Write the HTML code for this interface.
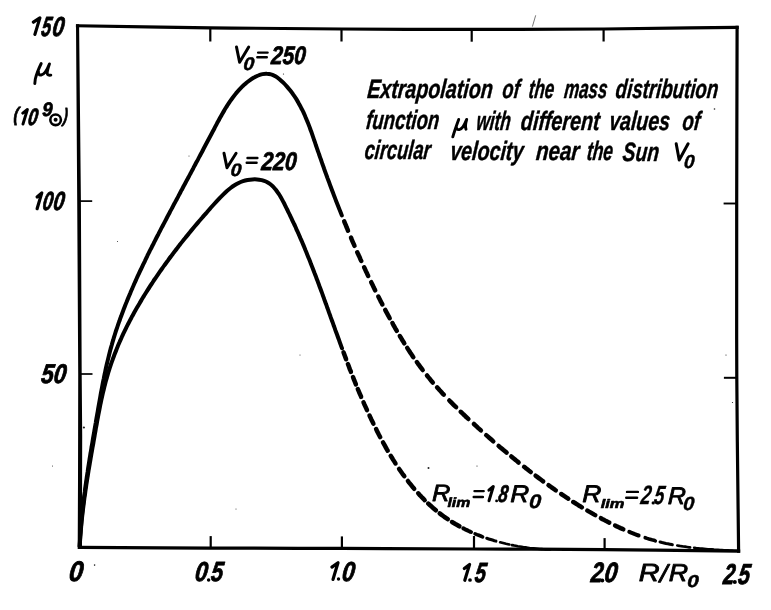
<!DOCTYPE html>
<html><head><meta charset="utf-8"><title>Mass distribution</title>
<style>
html,body{margin:0;padding:0;background:#fff;}
body{width:771px;height:610px;overflow:hidden;font-family:"Liberation Sans",sans-serif;}
svg{display:block;}
text{font-family:"Liberation Sans",sans-serif;font-style:italic;font-weight:bold;fill:#000;}
.ln{fill:none;stroke:#000;}
</style></head><body>
<svg width="771" height="610" viewBox="0 0 771 610">
<defs><filter id="g" x="0" y="0" width="771" height="610" filterUnits="userSpaceOnUse" color-interpolation-filters="sRGB"><feColorMatrix type="saturate" values="0"/></filter></defs>
<rect width="771" height="610" fill="#fff"/>
<g class="ln" stroke-width="3.2" stroke-linecap="square" stroke-linejoin="miter">
<path d="M77.5,25.8 C99.6,26.1 165.9,27.3 210.0,27.8 C254.1,28.3 298.3,28.7 342.0,29.0 C385.7,29.3 428.3,29.4 472.0,29.4 C515.7,29.4 567.7,29.3 604.0,29.0 C640.3,28.7 667.8,28.1 690.0,27.8 C712.2,27.5 729.2,27.5 737.1,27.4"/>
<path d="M737.1,27.4 C737.0,56.8 736.8,145.6 736.7,204.0 C736.7,262.4 736.5,320.1 736.8,378.0 C737.1,435.9 738.3,522.3 738.6,551.2"/>
<path d="M738.6,551.2 C716.2,550.9 648.1,550.0 604.0,549.6 C559.9,549.2 517.7,549.2 474.0,549.0 C430.3,548.8 386.0,548.5 342.0,548.4 C298.0,548.2 253.7,548.3 210.0,548.1 C166.3,547.9 101.3,547.4 79.6,547.3"/>
</g>
<path fill="#000" d="M76.0,24.3 L77.2,200.0 L78.2,374.0 L78.1,436.0 L78.0,480.0 L77.7,549.0 L81.9,549.0 L82.1,480.0 L82.2,436.0 L81.7,374.0 L80.9,200.0 L79.1,24.3 Z"/>
<g class="ln" stroke-linecap="butt">
<line x1="210.3" y1="28.0" x2="210.3" y2="41.5" stroke-width="2.2"/>
<line x1="341.5" y1="29.0" x2="341.5" y2="41.5" stroke-width="2.2"/>
<line x1="471.7" y1="29.4" x2="471.7" y2="41.7" stroke-width="2.2"/>
<line x1="603.6" y1="29.0" x2="603.6" y2="41.5" stroke-width="2.2"/>
<line x1="210.7" y1="536.1" x2="210.7" y2="548.0" stroke-width="2.2"/>
<line x1="341.9" y1="536.4" x2="341.9" y2="548.4" stroke-width="2.2"/>
<line x1="474.0" y1="536.0" x2="474.0" y2="549.0" stroke-width="2.2"/>
<line x1="604.6" y1="538.1" x2="604.6" y2="549.6" stroke-width="2.2"/>
<line x1="79.0" y1="201.1" x2="92.2" y2="201.1" stroke-width="1.7"/>
<line x1="80.0" y1="374.0" x2="92.5" y2="374.0" stroke-width="1.7"/>
<line x1="723.6" y1="203.5" x2="736.7" y2="203.5" stroke-width="1.9"/>
<line x1="723.9" y1="377.8" x2="736.8" y2="377.8" stroke-width="2.0"/>
</g>
<g class="ln" stroke-width="4.0" stroke-linecap="round" stroke-linejoin="round">
<path d="M79.7,546.5 C79.7,545.7 79.9,543.2 79.9,541.5 C80.0,539.9 80.1,538.2 80.2,536.5 C80.4,534.9 80.5,533.2 80.6,531.6 C80.7,529.9 80.8,528.2 81.0,526.6 C81.1,524.9 81.3,523.3 81.4,521.6 C81.6,520.0 81.7,518.3 81.9,516.6 C82.0,515.0 82.2,513.3 82.4,511.7 C82.6,510.0 82.7,508.4 82.9,506.7 C83.1,505.0 83.3,503.4 83.5,501.7 C83.7,500.1 83.9,498.4 84.1,496.8 C84.3,495.1 84.5,493.5 84.8,491.8 C85.0,490.1 85.2,488.5 85.4,486.8 C85.6,485.2 85.9,483.5 86.1,481.9 C86.4,480.2 86.6,478.6 86.8,476.9 C87.1,475.3 87.3,473.6 87.6,472.0 C87.8,470.3 88.1,468.7 88.3,467.0 C88.6,465.4 88.9,463.7 89.1,462.1 C89.4,460.4 89.6,458.8 89.9,457.1 C90.2,455.5 90.4,453.8 90.7,452.2 C91.0,450.5 91.3,448.9 91.5,447.2 C91.8,445.6 92.1,443.9 92.4,442.3 C92.7,440.6 92.9,439.0 93.2,437.3 C93.5,435.7 93.8,434.1 94.1,432.4 C94.3,430.8 94.6,429.1 94.9,427.5 C95.2,425.8 95.5,424.2 95.8,422.5 C96.0,420.9 96.3,419.3 96.6,417.6 C96.9,416.0 97.2,414.3 97.5,412.7 C97.8,411.1 98.0,409.4 98.3,407.8 C98.6,406.1 98.9,404.5 99.2,402.9 C99.5,401.2 99.8,399.6 100.1,397.9 C100.4,396.3 100.6,394.7 100.9,393.0 C101.2,391.4 101.6,389.8 101.9,388.1 C102.2,386.5 102.5,384.9 102.8,383.2 C103.1,381.6 103.4,380.0 103.8,378.4 C104.1,376.7 104.4,375.1 104.8,373.5 C105.1,371.9 105.5,370.3 105.8,368.6 C106.2,367.0 106.5,365.4 106.9,363.8 C107.3,362.2 107.7,360.6 108.1,358.9 C108.5,357.3 108.9,355.7 109.3,354.1 C109.7,352.5 110.1,350.9 110.5,349.3 C111.0,347.7 111.4,346.1 111.9,344.5 C112.3,342.9 112.8,341.3 113.3,339.7 C113.7,338.1 114.2,336.6 114.7,335.0 C115.2,333.4 115.7,331.8 116.2,330.2 C116.8,328.6 117.3,327.1 117.8,325.5 C118.4,323.9 118.9,322.3 119.5,320.8 C120.0,319.2 120.6,317.6 121.2,316.1 C121.7,314.5 122.3,312.9 122.9,311.4 C123.5,309.8 124.1,308.3 124.7,306.7 C125.3,305.1 125.9,303.6 126.6,302.0 C127.2,300.5 127.8,298.9 128.5,297.4 C129.1,295.8 129.7,294.3 130.4,292.8 C131.0,291.2 131.7,289.7 132.4,288.1 C133.0,286.6 133.7,285.1 134.4,283.5 C135.1,282.0 135.8,280.5 136.4,279.0 C137.1,277.4 137.8,275.9 138.5,274.4 C139.2,272.9 139.9,271.3 140.7,269.8 C141.4,268.3 142.1,266.8 142.8,265.3 C143.5,263.8 144.3,262.3 145.0,260.8 C145.7,259.2 146.4,257.7 147.2,256.2 C147.9,254.7 148.7,253.2 149.4,251.7 C150.2,250.2 150.9,248.7 151.7,247.2 C152.4,245.7 153.2,244.3 153.9,242.8 C154.7,241.3 155.4,239.8 156.2,238.3 C157.0,236.8 157.7,235.3 158.5,233.9 C159.3,232.4 160.0,230.9 160.8,229.4 C161.6,227.9 162.3,226.5 163.1,225.0 C163.9,223.5 164.6,222.1 165.4,220.6 C166.2,219.1 167.0,217.7 167.7,216.2 C168.5,214.7 169.3,213.3 170.0,211.8 C170.8,210.4 171.6,208.9 172.4,207.5 C173.1,206.0 173.9,204.5 174.7,203.1 C175.5,201.6 176.2,200.2 177.0,198.7 C177.8,197.3 178.5,195.9 179.3,194.4 C180.1,193.0 180.8,191.5 181.6,190.1 C182.4,188.6 183.2,187.2 183.9,185.7 C184.7,184.3 185.5,182.9 186.2,181.4 C187.0,180.0 187.8,178.5 188.6,177.1 C189.3,175.6 190.1,174.2 190.9,172.7 C191.6,171.3 192.4,169.8 193.2,168.4 C194.0,166.9 194.7,165.5 195.5,164.0 C196.3,162.5 197.1,161.1 197.9,159.6 C198.6,158.1 199.4,156.7 200.2,155.2 C201.0,153.7 201.8,152.3 202.6,150.8 C203.3,149.3 204.1,147.8 204.9,146.3 C205.7,144.8 206.5,143.3 207.3,141.8 C208.1,140.3 208.9,138.8 209.7,137.3 C210.5,135.8 211.3,134.3 212.1,132.8 C212.9,131.3 213.7,129.7 214.5,128.2 C215.3,126.7 216.1,125.1 216.9,123.6 C217.7,122.1 218.6,120.6 219.4,119.0 C220.2,117.5 221.1,116.0 221.9,114.5 C222.8,113.0 223.7,111.5 224.5,110.0 C225.4,108.5 226.3,107.1 227.2,105.6 C228.2,104.2 229.1,102.8 230.0,101.4 C231.0,100.0 232.0,98.6 233.0,97.3 C234.0,96.0 235.0,94.7 236.0,93.4 C237.1,92.1 238.2,90.9 239.3,89.7 C240.4,88.5 241.5,87.3 242.6,86.2 C243.8,85.1 245.0,84.1 246.2,83.0 C247.4,82.0 248.7,81.1 250.0,80.2 C251.3,79.3 252.6,78.4 254.0,77.6 C255.3,76.8 256.7,76.1 258.2,75.5 C259.6,74.9 261.0,74.4 262.5,74.1 C263.9,73.8 265.4,73.6 266.8,73.7 C268.3,73.7 269.7,73.9 271.1,74.4 C272.6,74.8 274.0,75.5 275.4,76.3 C276.8,77.1 278.1,78.1 279.5,79.2 C280.8,80.3 282.1,81.5 283.3,82.7 C284.6,84.0 285.8,85.3 287.0,86.6 C288.1,87.9 289.2,89.2 290.3,90.6 C291.4,92.0 292.4,93.3 293.3,94.7 C294.3,96.1 295.3,97.5 296.2,98.9 C297.1,100.4 297.9,101.8 298.7,103.3 C299.6,104.7 300.4,106.2 301.1,107.7 C301.9,109.2 302.6,110.7 303.4,112.2 C304.1,113.7 304.7,115.2 305.4,116.8 C306.1,118.3 306.7,119.8 307.3,121.4 C308.0,122.9 308.6,124.5 309.2,126.1 C309.8,127.6 310.3,129.2 310.9,130.8 C311.5,132.3 312.0,133.9 312.6,135.5 C313.1,137.1 313.7,138.7 314.2,140.3 C314.8,141.8 315.3,143.4 315.8,145.0 C316.4,146.6 316.9,148.2 317.5,149.8 C318.0,151.4 318.6,152.9 319.1,154.5 C319.7,156.1 320.2,157.7 320.8,159.2 C321.3,160.8 321.9,162.4 322.4,164.0 C323.0,165.5 323.6,167.1 324.1,168.7 C324.7,170.3 325.2,171.8 325.8,173.4 C326.4,175.0 327.0,176.5 327.5,178.1 C328.1,179.7 328.7,181.2 329.3,182.8 C329.8,184.4 330.4,185.9 331.0,187.5 C331.6,189.0 332.2,190.6 332.8,192.2 C333.3,193.7 333.9,195.3 334.5,196.8 C335.1,198.4 335.7,199.9 336.3,201.5 C336.9,203.0 337.5,204.6 338.1,206.1 C338.7,207.7 339.3,209.2 340.0,210.8 C340.6,212.3 341.5,214.6 341.8,215.4"/>
<path d="M79.7,546.5 C79.7,545.7 79.9,543.3 80.0,541.7 C80.1,540.1 80.2,538.5 80.3,536.9 C80.4,535.4 80.5,533.8 80.7,532.2 C80.8,530.6 80.9,529.0 81.1,527.4 C81.2,525.8 81.4,524.3 81.5,522.7 C81.7,521.1 81.8,519.5 82.0,518.0 C82.2,516.4 82.4,514.8 82.5,513.2 C82.7,511.7 82.9,510.1 83.1,508.5 C83.3,506.9 83.5,505.4 83.7,503.8 C83.9,502.2 84.1,500.7 84.3,499.1 C84.5,497.5 84.7,496.0 85.0,494.4 C85.2,492.8 85.4,491.3 85.6,489.7 C85.9,488.1 86.1,486.6 86.3,485.0 C86.6,483.4 86.8,481.9 87.0,480.3 C87.3,478.7 87.5,477.2 87.8,475.6 C88.0,474.1 88.3,472.5 88.5,470.9 C88.8,469.4 89.1,467.8 89.3,466.3 C89.6,464.7 89.8,463.1 90.1,461.6 C90.4,460.0 90.6,458.4 90.9,456.9 C91.2,455.3 91.4,453.8 91.7,452.2 C92.0,450.6 92.3,449.1 92.5,447.5 C92.8,446.0 93.1,444.4 93.4,442.8 C93.6,441.3 93.9,439.7 94.2,438.1 C94.5,436.6 94.7,435.0 95.0,433.4 C95.3,431.9 95.6,430.3 95.8,428.7 C96.1,427.2 96.4,425.6 96.7,424.0 C97.0,422.5 97.2,420.9 97.5,419.3 C97.8,417.8 98.1,416.2 98.4,414.7 C98.7,413.1 99.0,411.5 99.3,410.0 C99.6,408.4 99.9,406.8 100.2,405.3 C100.5,403.7 100.9,402.2 101.2,400.6 C101.5,399.1 101.9,397.5 102.2,396.0 C102.6,394.4 102.9,392.9 103.3,391.3 C103.7,389.8 104.0,388.2 104.4,386.7 C104.8,385.2 105.2,383.6 105.6,382.1 C106.0,380.6 106.4,379.0 106.9,377.5 C107.3,376.0 107.7,374.5 108.2,372.9 C108.7,371.4 109.1,369.9 109.6,368.4 C110.1,366.9 110.6,365.4 111.1,363.9 C111.6,362.4 112.1,360.9 112.7,359.4 C113.2,357.9 113.8,356.5 114.3,355.0 C114.9,353.5 115.5,352.0 116.1,350.6 C116.6,349.1 117.2,347.6 117.8,346.2 C118.5,344.7 119.1,343.2 119.7,341.8 C120.3,340.3 121.0,338.9 121.6,337.4 C122.3,336.0 123.0,334.6 123.6,333.1 C124.3,331.7 125.0,330.3 125.7,328.8 C126.4,327.4 127.1,326.0 127.8,324.6 C128.6,323.2 129.3,321.7 130.0,320.3 C130.8,318.9 131.5,317.5 132.3,316.1 C133.0,314.7 133.8,313.3 134.5,312.0 C135.3,310.6 136.1,309.2 136.9,307.8 C137.7,306.4 138.5,305.0 139.3,303.7 C140.1,302.3 140.9,300.9 141.7,299.6 C142.5,298.2 143.4,296.9 144.2,295.5 C145.0,294.2 145.9,292.8 146.7,291.5 C147.6,290.1 148.4,288.8 149.3,287.5 C150.1,286.1 151.0,284.8 151.9,283.5 C152.8,282.2 153.6,280.8 154.5,279.5 C155.4,278.2 156.3,276.9 157.2,275.6 C158.1,274.3 159.0,273.0 159.9,271.7 C160.8,270.4 161.7,269.1 162.6,267.8 C163.5,266.5 164.5,265.3 165.4,264.0 C166.3,262.7 167.2,261.4 168.2,260.2 C169.1,258.9 170.0,257.6 171.0,256.4 C171.9,255.1 172.9,253.9 173.8,252.6 C174.8,251.4 175.7,250.1 176.7,248.9 C177.6,247.6 178.6,246.4 179.5,245.1 C180.5,243.9 181.5,242.7 182.5,241.4 C183.4,240.2 184.4,239.0 185.4,237.8 C186.4,236.5 187.4,235.3 188.4,234.1 C189.4,232.9 190.4,231.6 191.4,230.4 C192.4,229.2 193.4,228.0 194.4,226.8 C195.4,225.6 196.4,224.4 197.5,223.1 C198.5,221.9 199.5,220.7 200.6,219.5 C201.6,218.3 202.7,217.1 203.7,215.9 C204.8,214.7 205.8,213.5 206.9,212.3 C207.9,211.1 209.0,209.8 210.1,208.6 C211.2,207.4 212.2,206.2 213.3,205.0 C214.4,203.8 215.5,202.6 216.6,201.4 C217.7,200.2 218.8,199.0 219.9,197.8 C221.1,196.6 222.2,195.5 223.4,194.3 C224.5,193.2 225.7,192.1 226.9,191.0 C228.1,190.0 229.3,189.0 230.6,188.0 C231.9,187.0 233.2,186.1 234.5,185.3 C235.8,184.5 237.2,183.7 238.6,183.0 C240.0,182.3 241.5,181.7 243.0,181.2 C244.5,180.7 246.1,180.3 247.6,180.0 C249.2,179.7 250.8,179.5 252.4,179.4 C254.0,179.3 255.6,179.3 257.1,179.4 C258.7,179.5 260.2,179.8 261.7,180.1 C263.1,180.5 264.5,180.9 265.9,181.5 C267.2,182.1 268.5,182.9 269.6,183.7 C270.8,184.5 271.9,185.5 273.0,186.5 C274.0,187.6 275.0,188.7 275.9,189.9 C276.9,191.1 277.8,192.4 278.6,193.7 C279.5,195.0 280.3,196.4 281.1,197.8 C281.9,199.2 282.6,200.7 283.4,202.1 C284.2,203.5 284.9,205.0 285.6,206.5 C286.4,207.9 287.1,209.4 287.8,210.8 C288.5,212.3 289.2,213.7 289.9,215.2 C290.6,216.7 291.3,218.1 292.0,219.6 C292.7,221.1 293.4,222.5 294.1,224.0 C294.8,225.4 295.4,226.9 296.1,228.4 C296.7,229.9 297.4,231.3 298.1,232.8 C298.7,234.3 299.3,235.7 300.0,237.2 C300.6,238.7 301.3,240.1 301.9,241.6 C302.5,243.1 303.1,244.6 303.8,246.0 C304.4,247.5 305.0,249.0 305.6,250.5 C306.2,251.9 306.8,253.4 307.4,254.9 C308.0,256.4 308.6,257.9 309.2,259.3 C309.8,260.8 310.4,262.3 310.9,263.8 C311.5,265.3 312.1,266.7 312.7,268.2 C313.3,269.7 313.8,271.2 314.4,272.7 C315.0,274.1 315.5,275.6 316.1,277.1 C316.6,278.6 317.2,280.1 317.8,281.6 C318.3,283.0 318.9,284.5 319.4,286.0 C320.0,287.5 320.5,289.0 321.1,290.5 C321.6,291.9 322.2,293.4 322.7,294.9 C323.2,296.4 323.8,297.9 324.3,299.4 C324.9,300.9 325.4,302.3 325.9,303.8 C326.5,305.3 327.0,306.8 327.5,308.3 C328.1,309.8 328.6,311.3 329.1,312.7 C329.7,314.2 330.2,315.7 330.7,317.2 C331.3,318.7 331.8,320.2 332.3,321.6 C332.9,323.1 333.4,324.6 333.9,326.1 C334.5,327.6 335.0,329.1 335.5,330.5 C336.1,332.0 336.6,333.5 337.2,335.0 C337.7,336.5 338.2,338.0 338.8,339.4 C339.3,340.9 339.8,342.4 340.4,343.9 C340.9,345.4 341.7,347.6 342.0,348.3"/>
</g>
<g class="ln" stroke-linecap="round" stroke-linejoin="round">
<path stroke-width="4.5" d="M344.2,221.4 L345.0,223.3 L345.8,225.1 L346.5,227.0 L347.3,228.8 L348.0,230.7 L348.0,230.7"/>
<path stroke-width="4.5" d="M351.0,237.6 L351.7,239.4 L352.5,241.3 L353.3,243.1 L354.1,244.9 L354.5,245.8"/>
<path stroke-width="4.5" d="M357.3,252.3 L358.1,254.1 L359.0,255.9 L359.8,257.7 L360.6,259.6 L361.2,260.9"/>
<path stroke-width="4.5" d="M364.1,267.3 L365.0,269.1 L365.8,270.9 L366.7,272.7 L367.5,274.5 L368.2,275.9"/>
<path stroke-width="4.5" d="M371.2,282.2 L372.1,284.0 L373.0,285.8 L373.8,287.6 L374.7,289.4 L375.2,290.3"/>
<path stroke-width="4.5" d="M378.3,296.5 L379.2,298.3 L380.1,300.1 L381.0,301.9 L382.0,303.6 L382.4,304.5"/>
<path stroke-width="4.5" d="M385.2,309.9 L386.1,311.6 L387.1,313.4 L388.0,315.1 L389.0,316.9 L389.7,318.2"/>
<path stroke-width="4.5" d="M392.4,323.0 L393.3,324.8 L394.3,326.5 L395.3,328.3 L396.3,330.0 L396.8,330.9"/>
<path stroke-width="4.5" d="M399.8,336.0 L400.9,337.7 L401.9,339.5 L403.0,341.2 L404.0,342.9 L404.3,343.3"/>
<path stroke-width="4.5" d="M407.2,347.9 L408.3,349.6 L409.4,351.3 L410.5,353.0 L411.6,354.6 L412.7,356.3 L413.3,357.1"/>
<path stroke-width="4.5" d="M416.8,362.0 L417.9,363.6 L419.1,365.2 L420.3,366.8 L421.5,368.4 L422.7,370.0 L422.7,370.0"/>
<path stroke-width="4.5" d="M427.0,375.5 L428.3,377.1 L429.6,378.6 L430.8,380.2 L432.1,381.7 L432.8,382.5"/>
<path stroke-width="4.5" d="M437.1,387.4 L438.4,388.8 L439.7,390.3 L441.1,391.8 L442.4,393.3 L443.8,394.7 L443.8,394.7"/>
<path stroke-width="4.5" d="M449.3,400.5 L450.7,401.9 L452.2,403.4 L453.6,404.8 L455.0,406.2 L456.1,407.2"/>
<path stroke-width="4.5" d="M460.7,411.8 L462.2,413.1 L463.6,414.5 L465.1,415.9 L466.5,417.3 L468.0,418.6 L468.4,419.0"/>
<path stroke-width="4.5" d="M473.9,424.0 L475.4,425.4 L476.8,426.7 L478.3,428.1 L479.8,429.4 L480.9,430.4"/>
<path stroke-width="4.5" d="M486.2,435.1 L487.7,436.4 L489.2,437.7 L490.7,439.0 L492.2,440.3 L493.3,441.3"/>
<path stroke-width="4.5" d="M498.6,445.9 L500.1,447.2 L501.7,448.5 L503.2,449.8 L504.7,451.0 L506.3,452.3 L506.6,452.6"/>
<path stroke-width="4.5" d="M511.3,456.5 L512.8,457.7 L514.4,459.0 L515.9,460.3 L517.5,461.5 L518.6,462.5"/>
<path stroke-width="4.5" d="M524.1,466.8 L525.7,468.1 L527.3,469.3 L528.8,470.5 L530.4,471.7 L530.8,472.0"/>
<path stroke-width="4.5" d="M535.6,475.7 L537.2,476.9 L538.8,478.1 L540.4,479.3 L542.0,480.5 L543.2,481.4"/>
<path stroke-width="4.5" d="M548.5,485.2 L550.1,486.3 L551.7,487.5 L553.4,488.6 L555.0,489.8 L555.8,490.3"/>
<path stroke-width="4.5" d="M561.2,494.0 L562.9,495.1 L564.5,496.2 L566.2,497.3 L567.9,498.4 L568.3,498.7"/>
<path stroke-width="4.5" d="M573.3,502.0 L575.0,503.0 L576.7,504.1 L578.4,505.2 L580.1,506.2 L581.8,507.3 L581.8,507.3"/>
<path stroke-width="4.5" d="M587.4,510.6 L589.1,511.6 L590.9,512.6 L592.6,513.6 L594.3,514.6 L595.2,515.1"/>
<path stroke-width="4.5" d="M600.9,518.2 L602.6,519.2 L604.4,520.1 L606.2,521.1 L608.0,522.0 L609.3,522.6"/>
<path stroke-width="4.5" d="M615.1,525.5 L616.9,526.4 L618.7,527.2 L620.6,528.1 L622.4,528.9 L623.3,529.3"/>
<path stroke-width="4.0" d="M629.3,531.8 L631.1,532.6 L633.0,533.3 L634.9,534.1 L636.7,534.8 L638.6,535.5 L638.6,535.5"/>
<path stroke-width="3.6" d="M645.2,537.7 L647.1,538.4 L649.0,539.0 L650.9,539.5 L652.9,540.1 L654.8,540.6 L655.3,540.8"/>
<path stroke-width="3.1" d="M660.1,542.0 L662.1,542.5 L664.0,542.9 L666.0,543.4 L667.9,543.8 L669.9,544.2 L671.8,544.6 L672.3,544.7"/>
<path stroke-width="2.7" d="M677.3,545.5 L679.2,545.8 L681.2,546.2 L683.2,546.5 L685.2,546.7 L687.1,547.0 L689.1,547.3 L690.1,547.4"/>
<path stroke-width="2.6" d="M694.1,547.8 L696.1,548.1 L698.1,548.3 L700.1,548.5 L702.1,548.6 L704.0,548.8 L706.0,549.0 L708.0,549.2 L710.0,549.3 L712.0,549.4 L714.0,549.6 L716.0,549.7 L718.0,549.8 L720.0,550.0 L722.0,550.1 L724.0,550.2 L726.0,550.3 L728.0,550.4 L730.0,550.5 L732.0,550.6 L734.0,550.7 L736.0,550.8 L737.0,550.8"/>
<path stroke-width="4.5" d="M343.5,352.3 L344.2,354.1 L344.9,356.0 L345.6,357.9 L346.1,359.3"/>
<path stroke-width="4.5" d="M347.9,364.0 L348.6,365.8 L349.3,367.7 L350.0,369.6 L350.8,371.4 L350.9,371.9"/>
<path stroke-width="4.5" d="M353.0,377.0 L353.7,378.9 L354.4,380.7 L355.2,382.6 L355.9,384.4 L355.9,384.4"/>
<path stroke-width="4.5" d="M357.8,389.1 L358.6,390.9 L359.4,392.8 L360.2,394.6 L361.0,396.4 L361.1,396.9"/>
<path stroke-width="4.5" d="M363.5,402.4 L364.3,404.2 L365.2,406.1 L366.0,407.9 L366.8,409.7 L367.0,410.2"/>
<path stroke-width="4.5" d="M369.5,415.6 L370.4,417.4 L371.2,419.2 L372.1,421.0 L373.0,422.8 L373.4,423.7"/>
<path stroke-width="4.5" d="M376.1,429.1 L377.0,430.9 L377.9,432.7 L378.8,434.5 L379.7,436.2 L380.2,437.1"/>
<path stroke-width="4.5" d="M383.0,442.4 L384.0,444.1 L385.0,445.9 L385.9,447.6 L386.9,449.4 L387.7,450.7"/>
<path stroke-width="4.5" d="M390.7,455.8 L391.8,457.5 L392.8,459.2 L393.9,460.9 L395.0,462.6 L395.5,463.5"/>
<path stroke-width="4.5" d="M399.1,468.9 L400.2,470.5 L401.4,472.2 L402.5,473.8 L403.7,475.4 L404.3,476.2"/>
<path stroke-width="4.5" d="M407.9,481.0 L409.1,482.6 L410.4,484.2 L411.6,485.7 L412.9,487.3 L414.2,488.8 L414.2,488.8"/>
<path stroke-width="4.5" d="M418.2,493.3 L419.5,494.8 L420.9,496.2 L422.3,497.7 L423.7,499.1 L424.7,500.2"/>
<path stroke-width="4.5" d="M428.3,503.6 L429.8,505.0 L431.3,506.3 L432.8,507.7 L434.3,509.0 L435.8,510.3 L435.8,510.3"/>
<path stroke-width="4.5" d="M439.7,513.4 L441.3,514.6 L442.9,515.8 L444.5,517.0 L446.2,518.1 L447.8,519.2 L447.8,519.2"/>
<path stroke-width="4.5" d="M452.0,522.0 L453.7,523.0 L455.4,524.0 L457.2,525.0 L458.9,526.0 L459.4,526.3"/>
<path stroke-width="4.0" d="M463.3,528.4 L465.1,529.3 L466.9,530.1 L468.7,531.0 L470.5,531.8 L471.0,532.0"/>
<path stroke-width="3.6" d="M475.1,533.8 L477.0,534.6 L478.8,535.3 L480.7,536.0 L482.6,536.8 L482.6,536.8"/>
<path stroke-width="3.1" d="M486.8,538.3 L488.7,538.9 L490.6,539.5 L492.5,540.1 L494.4,540.7 L495.9,541.1"/>
<path stroke-width="2.7" d="M500.2,542.3 L502.1,542.8 L504.1,543.3 L506.0,543.8 L508.0,544.2 L509.4,544.5"/>
<path stroke-width="2.6" d="M511.9,545.1 L513.8,545.4 L515.8,545.8 L517.8,546.2 L519.7,546.5 L521.7,546.8 L523.7,547.2 L525.7,547.4 L527.7,547.7 L529.6,548.0 L531.6,548.2 L533.6,548.4 L535.6,548.6 L537.6,548.8 L539.6,549.0 L541.6,549.1 L543.6,549.2 L545.6,549.4 L547.6,549.5 L549.6,549.5 L550.1,549.5"/>
</g>
<g fill="#222">
<circle cx="83.9" cy="427.5" r="1.1"/>
<circle cx="94.6" cy="565.1" r="0.8"/>
<circle cx="428.5" cy="468.0" r="1.0"/>
<circle cx="714.5" cy="109.0" r="0.8"/>
<circle cx="726.0" cy="355.0" r="0.6"/>
<circle cx="732.5" cy="402.5" r="0.6"/>
<circle cx="477.0" cy="466.0" r="0.6"/>
<circle cx="52.5" cy="466.0" r="0.5"/>
<circle cx="236.0" cy="509.0" r="0.5"/>
<circle cx="300.0" cy="355.0" r="0.5"/>
<circle cx="189.0" cy="156.0" r="0.5"/>
<circle cx="283.5" cy="74.0" r="0.6"/>
<circle cx="117.5" cy="241.5" r="0.5"/>
</g>
<line x1="535.7" y1="15.3" x2="532.4" y2="26.6" stroke="#555" stroke-width="0.8"/>
<circle cx="55.6" cy="119.8" r="5.3" class="ln" stroke-width="2.6"/><circle cx="55.6" cy="119.8" r="2.0" fill="#000"/>
<g filter="url(#g)">
<text transform="matrix(0.1967,0,-0.0244,0.2650,366.63,98.30)" font-size="100" stroke="#000" stroke-width="1.73" stroke-linejoin="round">Extrapolation</text>
<text transform="matrix(0.1817,0,-0.0276,0.2650,501.86,98.30)" font-size="100" stroke="#000" stroke-width="1.79" stroke-linejoin="round">of</text>
<text transform="matrix(0.1688,0,-0.0304,0.2650,528.11,98.30)" font-size="100" stroke="#000" stroke-width="1.84" stroke-linejoin="round">the</text>
<text transform="matrix(0.1680,0,-0.0305,0.2650,563.55,98.30)" font-size="100" stroke="#000" stroke-width="1.85" stroke-linejoin="round">mass</text>
<text transform="matrix(0.1865,0,-0.0266,0.2650,615.10,98.30)" font-size="100" stroke="#000" stroke-width="1.77" stroke-linejoin="round">distribution</text>
<text transform="matrix(0.1853,0,-0.0269,0.2650,365.58,129.30)" font-size="100" stroke="#000" stroke-width="1.78" stroke-linejoin="round">function</text>
<text transform="matrix(0.1719,0,-0.0297,0.2650,475.72,129.70)" font-size="100" stroke="#000" stroke-width="1.83" stroke-linejoin="round">with</text>
<text transform="matrix(0.1977,0,-0.0242,0.2650,520.35,129.80)" font-size="100" stroke="#000" stroke-width="1.73" stroke-linejoin="round">different</text>
<text transform="matrix(0.1953,0,-0.0247,0.2650,608.70,129.90)" font-size="100" stroke="#000" stroke-width="1.74" stroke-linejoin="round">values</text>
<text transform="matrix(0.1881,0,-0.0263,0.2650,681.70,129.90)" font-size="100" stroke="#000" stroke-width="1.77" stroke-linejoin="round">of</text>
<text transform="matrix(0.1824,0,-0.0275,0.2650,363.98,159.30)" font-size="100" stroke="#000" stroke-width="1.79" stroke-linejoin="round">circular</text>
<text transform="matrix(0.1965,0,-0.0245,0.2650,449.69,159.50)" font-size="100" stroke="#000" stroke-width="1.73" stroke-linejoin="round">velocity</text>
<text transform="matrix(0.2057,0,-0.0225,0.2650,535.43,159.90)" font-size="100" stroke="#000" stroke-width="1.70" stroke-linejoin="round">near</text>
<text transform="matrix(0.1731,0,-0.0295,0.2650,586.20,160.20)" font-size="100" stroke="#000" stroke-width="1.83" stroke-linejoin="round">the</text>
<text transform="matrix(0.1927,0,-0.0253,0.2650,622.05,160.50)" font-size="100" stroke="#000" stroke-width="1.75" stroke-linejoin="round">Sun</text>
<text transform="matrix(0.1899,0,-0.0163,0.1888,683.57,167.60)" font-size="100" stroke="#000" stroke-width="2.11" stroke-linejoin="round">0</text>
<text transform="matrix(0.1949,0,-0.0129,0.1809,230.34,176.25)" font-size="100" stroke="#000" stroke-width="2.66" stroke-linejoin="round">0</text>
<text transform="matrix(0.2101,0,-0.0193,0.2559,261.12,170.05)" font-size="100" stroke="#000" stroke-width="3.00" stroke-linejoin="round">220</text>
<text transform="matrix(0.1965,0,-0.0134,0.1838,242.91,69.75)" font-size="100" stroke="#000" stroke-width="2.63" stroke-linejoin="round">0</text>
<text transform="matrix(0.2069,0,-0.0196,0.2544,270.63,64.15)" font-size="100" stroke="#000" stroke-width="3.03" stroke-linejoin="round">250</text>
<text transform="matrix(0.2500,0,-0.0057,0.2355,432.07,501.15)" font-size="100" style="font-weight:normal" stroke="#000" stroke-width="3.71" stroke-linejoin="round">R</text>
<text transform="matrix(0.1579,0,-0.0001,0.1347,447.47,507.25)" font-size="100" stroke="#000" stroke-width="4.78" stroke-linejoin="round">lim</text>
<text transform="matrix(0.1708,0,-0.0359,0.2407,497.39,502.00)" font-size="100" stroke="#000" stroke-width="2.92" stroke-linejoin="round">8</text>
<text transform="matrix(0.2591,0,-0.0049,0.2398,510.16,501.85)" font-size="100" style="font-weight:normal" stroke="#000" stroke-width="3.61" stroke-linejoin="round">R</text>
<text transform="matrix(0.2176,0,-0.0124,0.1957,528.63,507.80)" font-size="100" stroke="#000" stroke-width="1.94" stroke-linejoin="round">0</text>
<text transform="matrix(0.2619,0,-0.0043,0.2399,582.15,501.85)" font-size="100" style="font-weight:normal" stroke="#000" stroke-width="3.59" stroke-linejoin="round">R</text>
<text transform="matrix(0.1643,0,0.0000,0.1255,600.73,507.85)" font-size="100" stroke="#000" stroke-width="4.83" stroke-linejoin="round">lim</text>
<text transform="matrix(0.1786,0,-0.0420,0.2665,640.12,504.15)" font-size="100" stroke="#000" stroke-width="1.35" stroke-linejoin="round">2</text>
<text transform="matrix(0.1825,0,-0.0399,0.2623,653.34,504.45)" font-size="100" stroke="#000" stroke-width="1.35" stroke-linejoin="round">5</text>
<text transform="matrix(0.2469,0,-0.0075,0.2398,667.77,503.55)" font-size="100" style="font-weight:normal" stroke="#000" stroke-width="3.70" stroke-linejoin="round">R</text>
<text transform="matrix(0.2017,0,-0.0146,0.1917,682.68,510.20)" font-size="100" stroke="#000" stroke-width="2.03" stroke-linejoin="round">0</text>
<text transform="matrix(0.1706,0,-0.0468,0.2768,40.54,35.73)" font-size="100" stroke="#000" stroke-width="3.35" stroke-linejoin="round">5</text>
<text transform="matrix(0.2116,0,-0.0375,0.2749,51.56,35.83)" font-size="100" stroke="#000" stroke-width="3.08" stroke-linejoin="round">0</text>
<text transform="matrix(0.1836,0,-0.0394,0.2614,41.75,210.03)" font-size="100" stroke="#000" stroke-width="3.37" stroke-linejoin="round">0</text>
<text transform="matrix(0.1980,0,-0.0364,0.2618,52.40,210.12)" font-size="100" stroke="#000" stroke-width="3.26" stroke-linejoin="round">0</text>
<text transform="matrix(0.2246,0,-0.0336,0.2711,40.54,383.12)" font-size="100" stroke="#000" stroke-width="3.03" stroke-linejoin="round">50</text>
<text transform="matrix(0.1519,0,-0.0167,0.1961,13.35,121.15)" font-size="100" stroke="#000" stroke-width="4.02" stroke-linejoin="round">(</text>
<text transform="matrix(0.1729,0,-0.0347,0.2382,27.14,125.12)" font-size="100" stroke="#000" stroke-width="3.65" stroke-linejoin="round">0</text>
<text transform="matrix(0.1837,0,-0.0100,0.1961,42.10,115.65)" font-size="100" stroke="#000" stroke-width="3.69" stroke-linejoin="round">9</text>
<text transform="matrix(0.1285,0,-0.0214,0.1949,62.68,122.15)" font-size="100" stroke="#000" stroke-width="4.33" stroke-linejoin="round">)</text>
<text transform="matrix(0.2546,0,-0.0308,0.2830,68.33,581.02)" font-size="100" stroke="#000" stroke-width="2.79" stroke-linejoin="round">0</text>
<text transform="matrix(0.2269,0,-0.0340,0.2743,194.23,581.42)" font-size="100" stroke="#000" stroke-width="2.99" stroke-linejoin="round">0</text>
<text transform="matrix(0.2158,0,-0.0369,0.2760,210.16,581.42)" font-size="100" stroke="#000" stroke-width="3.05" stroke-linejoin="round">5</text>
<text transform="matrix(0.2284,0,-0.0338,0.2744,341.17,581.23)" font-size="100" stroke="#000" stroke-width="2.98" stroke-linejoin="round">0</text>
<text transform="matrix(0.1964,0,-0.0413,0.2768,473.91,581.52)" font-size="100" stroke="#000" stroke-width="3.17" stroke-linejoin="round">5</text>
<text transform="matrix(0.2129,0,-0.0386,0.2794,590.33,581.62)" font-size="100" stroke="#000" stroke-width="3.05" stroke-linejoin="round">2</text>
<text transform="matrix(0.2298,0,-0.0351,0.2799,603.80,581.92)" font-size="100" stroke="#000" stroke-width="2.94" stroke-linejoin="round">0</text>
<text transform="matrix(0.2007,0,-0.0437,0.2879,722.47,583.62)" font-size="100" stroke="#000" stroke-width="3.07" stroke-linejoin="round">2</text>
<text transform="matrix(0.2107,0,-0.0421,0.2898,737.35,583.62)" font-size="100" stroke="#000" stroke-width="3.00" stroke-linejoin="round">5</text>
<text transform="matrix(0.2888,0,0.0000,0.2379,638.87,581.25)" font-size="100" style="font-weight:normal" stroke="#000" stroke-width="3.42" stroke-linejoin="round">R</text>
<text transform="matrix(0.2788,0,-0.0024,0.2469,659.70,581.55)" font-size="100" style="font-weight:normal" stroke="#000" stroke-width="3.42" stroke-linejoin="round">/</text>
<text transform="matrix(0.2651,0,-0.0048,0.2446,668.78,581.45)" font-size="100" style="font-weight:normal" stroke="#000" stroke-width="3.53" stroke-linejoin="round">R</text>
<text transform="matrix(0.2092,0,-0.0069,0.1713,686.97,586.95)" font-size="100" stroke="#000" stroke-width="2.63" stroke-linejoin="round">0</text>
</g>
<circle cx="496.6" cy="500.9" r="1.43" fill="#000"/>
<circle cx="653.2" cy="502.9" r="1.62" fill="#000"/>
<circle cx="208.6" cy="580.0" r="1.75" fill="#000"/>
<circle cx="338.5" cy="579.0" r="1.70" fill="#000"/>
<circle cx="470.0" cy="580.0" r="1.85" fill="#000"/>
<circle cx="602.3" cy="580.5" r="1.95" fill="#000"/>
<circle cx="734.8" cy="582.0" r="2.05" fill="#000"/>
<path class="ln" stroke-width="3.0" stroke-linecap="round" stroke-linejoin="round" d="M488.9,490.2 L493.3,486.5 L489.0,500.7"/>
<path class="ln" stroke-width="3.2" stroke-linecap="round" stroke-linejoin="round" d="M33.4,22.2 L39.9,17.9 L34.9,34.4"/>
<path class="ln" stroke-width="3.2" stroke-linecap="round" stroke-linejoin="round" d="M37.1,197.0 L41.8,192.9 L37.1,208.7"/>
<path class="ln" stroke-width="2.9" stroke-linecap="round" stroke-linejoin="round" d="M22.8,113.2 L27.4,109.5 L23.0,124.0"/>
<path class="ln" stroke-width="3.2" stroke-linecap="round" stroke-linejoin="round" d="M331.9,567.1 L338.0,562.7 L333.0,579.4"/>
<path class="ln" stroke-width="3.2" stroke-linecap="round" stroke-linejoin="round" d="M464.3,568.5 L469.6,564.4 L464.8,580.3"/>
<path class="ln" stroke-width="2.4" stroke-linecap="round" d="M247.5,158.0 L257.4,158.0 M246.7,162.7 L256.6,162.7"/>
<path class="ln" stroke-width="2.4" stroke-linecap="round" d="M258.1,52.6 L267.6,52.6 M257.3,57.3 L266.8,57.3"/>
<path class="ln" stroke-width="2.4" stroke-linecap="round" d="M474.5,491.1 L483.7,491.1 M473.7,497.0 L482.9,497.0"/>
<path class="ln" stroke-width="2.4" stroke-linecap="round" d="M627.0,491.9 L637.9,491.9 M626.2,497.8 L637.1,497.8"/>
<path class="ln" stroke-width="3.0" stroke-linecap="round" stroke-linejoin="round" d="M676.2,143.8 L679.2,160.0 L688.1,143.8"/>
<path class="ln" stroke-width="3.0" stroke-linecap="round" stroke-linejoin="round" d="M224.0,153.3 L227.0,167.8 L236.1,153.3"/>
<path class="ln" stroke-width="3.0" stroke-linecap="round" stroke-linejoin="round" d="M236.5,47.0 L239.6,62.2 L248.7,47.0"/>
<g class="ln" stroke-linecap="round" stroke-linejoin="round">
<path stroke-width="2.9" d="M41.2,63.5 C39.5,67 36.5,74 35.3,79 L34.8,83.6 M38.4,71 C38.2,73.8 39,75.3 41.2,75 C44,74.6 46.7,71 49.5,63.9 C48.3,67.5 47,71.5 47.2,73.4 C47.4,75 48.8,75.5 50.8,75.1"/>
<path stroke-width="2.9" d="M458.7,119.4 C457,124 454.5,131 452.8,136.8 M456.3,126 C456,128.6 457.3,129.9 459.3,129.6 C462,129.3 464.5,125 466.7,119.4 C465.8,122.5 465.2,127 466,129.2"/>
</g>
</svg>
</body></html>
